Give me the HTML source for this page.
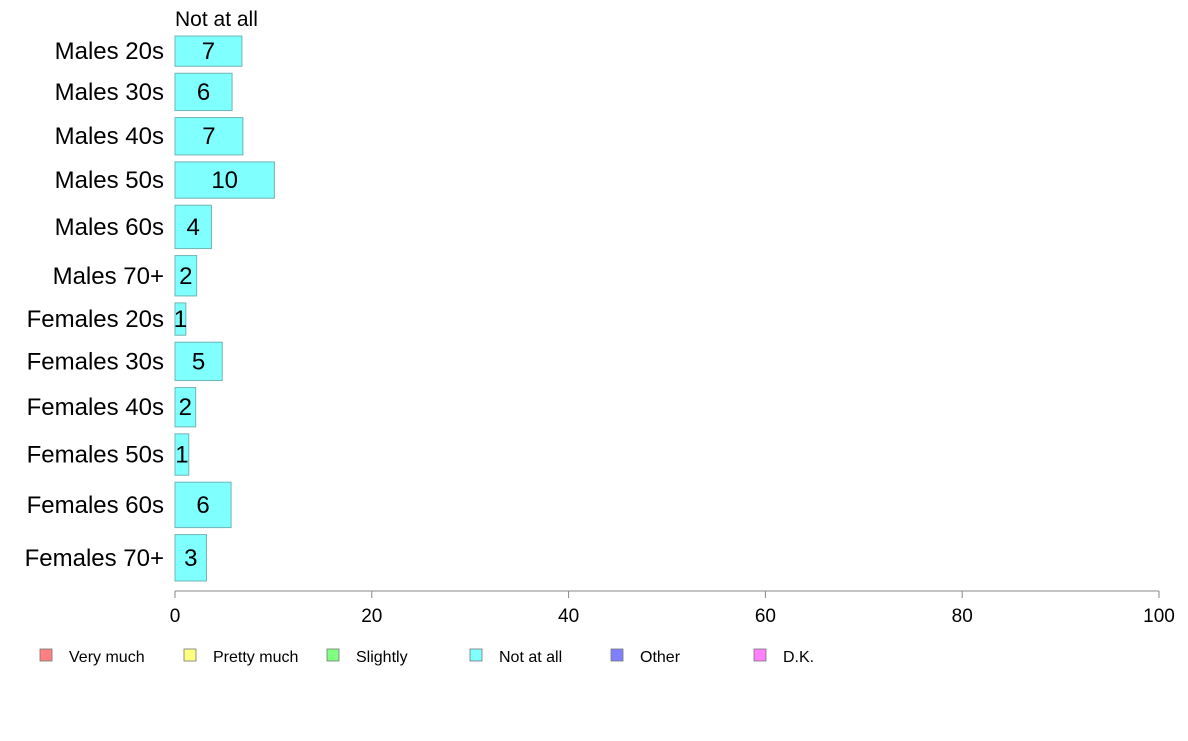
<!DOCTYPE html>
<html><head><meta charset="utf-8"><style>
body{margin:0;background:#fff;width:1188px;height:736px;overflow:hidden;font-family:"Liberation Sans",sans-serif}
</style></head><body>
<svg id="chart" width="1188" height="736" xmlns="http://www.w3.org/2000/svg" font-family="Liberation Sans, sans-serif"></svg>
<script>
const categories=["Males 20s","Males 30s","Males 40s","Males 50s","Males 60s","Males 70+","Females 20s","Females 30s","Females 40s","Females 50s","Females 60s","Females 70+"];
const notAtAll=[6.8,5.8,6.9,10.1,3.7,2.2,1.1,4.8,2.1,1.4,5.7,3.2];
const printed=["7","6","7","10","4","2","1","5","2","1","6","3"];
const bandWeights=[30,37,37,36,43,40,32,38,39,41,45,46];
const xTicks=[0,20,40,60,80,100];
const legendLabels=["Very much","Pretty much","Slightly","Not at all","Other","D.K."];
const legendColors=["#ff8080","#ffff80","#80ff80","#80ffff","#8080ff","#ff80ff"];

const svg=document.getElementById('chart');
const NS="http://www.w3.org/2000/svg";
const x0=175,x1=1159,yTop=36,yBot=581,axisY=591;
const xs=v=>x0+(v/100)*(x1-x0);
const totalW=bandWeights.reduce((a,b)=>a+b,0);
const gap=7;
const scaleH=(yBot-yTop-gap*(categories.length-1))/totalW;
function mk(tag,attrs){const e=document.createElementNS(NS,tag);for(const k in attrs)e.setAttribute(k,attrs[k]);svg.appendChild(e);return e;}

let t=mk('text',{x:175,y:26,'font-size':21,fill:'#000'});t.textContent="Not at all";



let y=yTop;
categories.forEach((c,i)=>{
  const h=bandWeights[i]*scaleH;
  const r=mk('rect',{x:x0,y:y,width:xs(notAtAll[i])-x0,height:h,fill:'#80ffff',stroke:'#6fb4b4','stroke-width':1});
  
  
  const lab=mk('text',{x:164,y:y+h/2+8,'font-size':24,'text-anchor':'end',fill:'#000'});
  lab.textContent=c;
  
  
  const v=mk('text',{x:(x0+xs(notAtAll[i]))/2,y:y+h/2+8,'font-size':24,'text-anchor':'middle',fill:'#000'});
  v.textContent=printed[i];
  
  
  y+=h+gap;
});

const ax=mk('line',{x1:x0,x2:x1,y1:axisY,y2:axisY,stroke:'#888','stroke-width':1});


xTicks.forEach(v=>{
  const tk=mk('line',{x1:xs(v),x2:xs(v),y1:axisY,y2:axisY+7,stroke:'#888'});
  
  
  const tl=mk('text',{x:xs(v),y:622,'font-size':19,'text-anchor':'middle',fill:'#000'});
  tl.textContent=v;
  
  
});

const legX=[40,184,327,470,611,754];
legendLabels.forEach((l,i)=>{
  const s=mk('rect',{x:legX[i],y:649,width:12,height:12,fill:legendColors[i],stroke:'#777','stroke-width':0.8});
  
  
  const lt=mk('text',{x:legX[i]+29,y:662,'font-size':16,fill:'#000'});
  lt.textContent=l;
  
  
});
</script>
</body></html>
